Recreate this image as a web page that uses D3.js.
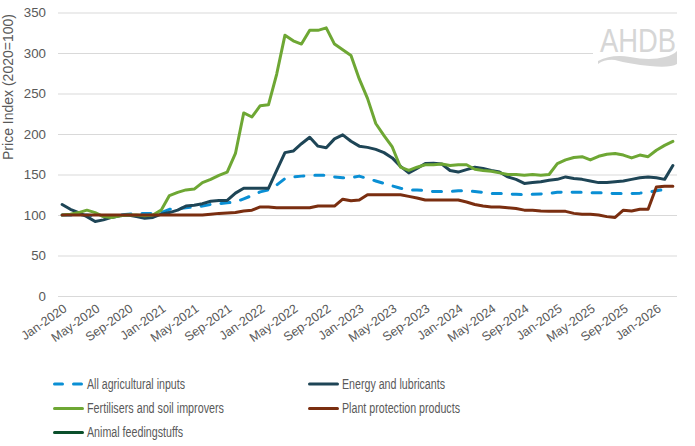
<!DOCTYPE html>
<html>
<head>
<meta charset="utf-8">
<script src="https://cdn.jsdelivr.net/npm/d3@7"></script>
<style>
  body { margin: 0; background: #fff; }
  svg { display: block; font-family: "Liberation Sans", Arial, sans-serif; }
</style>
</head>
<body>
<svg id="chart"></svg>
<script>
(() => {

  // monthly categories, Jan-2020 .. Mar-2026
  const months = d3.timeMonth.range(new Date(2020, 0, 1), new Date(2026, 3, 1));

  const allInputs = [100,100,100,100,99,99,99,100,101,102,102,102,
    103,107,108,109,110,111,113,114,115,116,120,124,
    128.5,131,137,145,147,148,149,149,149,147,146,146,
    148,145,142,139,136,133,131,131,130,129,129,129,
    130,130,129,128,126.5,126.5,126,125.5,125,125.5,126,126.5,
    128,128.5,128,128,127.5,127.5,127,126.5,126.5,126.5,127,128,
    130,131.5,null];

  const energy = [113,107,103,98,92,94,97,99,100,98,96,97,
    101,103,106,111,112,114,117,118,118,127,133,133,
    133,133,155,177,179,188,196,185,183,194,199,191,
    185,183.5,181,177,170.5,160,152,157.5,163.5,164,163,155,
    153,156,159,157.5,155,153,147,144,139,140,141,143,
    144,147,145,144,142,140,140,141,142,144,146,147,
    146,144,161];

  const fertilisers = [100,101,103,106,103,98,97,99,100,100,99,100,
    106,124,128,131,132,140,144,149,153,176,226,221,
    235,236,274,322,315,311,328,328,331,311,304,297,
    268,244,213,198,184,159,155,159,162,162,163,161,
    162,162,156.5,155,154,152,150,150,149,150,149,150,
    163.5,168,171,172,168,172.5,175,176,174,170.5,174,172,
    180,186,191];

  const plantProtection = [100,100,100,100,100,100,100,100,100,100,100,100,
    100,100,100,100,100,100,101,102,102.5,103,105,106,
    110,110,109,109,109,109,109,111,111,111,119.5,117.5,
    118.5,125,125,125,125,125,123,121,118.5,118.5,118.5,118.5,
    118.5,116,113,111,110,110,109,108,106,106,105,104.5,
    104.5,104.5,102,101,101,100,98,97,106,105,107,107,
    134.7,135.5,135.5];

  // no visible line in the chart, legend entry only
  const animalFeed = [];

  const yTicks = [0, 50, 100, 150, 200, 250, 300, 350];

  const series = [
    { name: 'All agricultural inputs', values: allInputs, color: '#0A8FD4', dash: '9,11', labelWidth: 98 },
    { name: 'Energy and lubricants', values: energy, color: '#1E4556', labelWidth: 103 },
    { name: 'Fertilisers and soil improvers', values: fertilisers, color: '#6EA734', labelWidth: 137 },
    { name: 'Plant protection products', values: plantProtection, color: '#7A2E10', labelWidth: 118 },
    { name: 'Animal feedingstuffs', values: animalFeed, color: '#0A4F2B', labelWidth: 96 }
  ];

  const width = 695;
  const height = 446;
  const left = 58, right = 677, top = 12.5, bottom = 296;

  const svg = d3.select('#chart')
    .attr('width', width)
    .attr('height', height);

  const fmt = d3.timeFormat('%b-%Y');

  const x = d3.scaleBand()
    .domain(months.map(fmt))
    .range([left, right])
    .padding(0);

  const y = d3.scaleLinear()
    .domain([0, 350])
    .range([bottom, top]);

  // gridlines + y labels
  const yAxis = svg.append('g')
    .attr('transform', `translate(${left},0)`)
    .call(d3.axisLeft(y).tickValues(yTicks).tickSize(-(right - left)).tickPadding(12));
  yAxis.select('.domain').remove();
  yAxis.selectAll('line').attr('stroke', '#D9D9D9');
  yAxis.selectAll('text')
    .attr('fill', '#595959')
    .style('font-size', '13.3px');

  // x labels
  const xAxis = svg.append('g')
    .attr('transform', `translate(0,${bottom})`)
    .call(d3.axisBottom(x).tickValues(x.domain().filter((d, i) => i % 4 === 0)).tickSize(0));
  xAxis.select('.domain').remove();
  xAxis.selectAll('text')
    .attr('x', 0)
    .attr('y', 0)
    .attr('dy', '0.35em')
    .attr('transform', 'translate(3,11) rotate(-35)')
    .style('text-anchor', 'end')
    .style('font-size', '12.5px')
    .attr('fill', '#595959');

  svg.append('text')
    .attr('transform', 'translate(13,87) rotate(-90)')
    .attr('text-anchor', 'middle')
    .attr('fill', '#595959')
    .style('font-size', '14px')
    .text('Price Index (2020=100)');

  // logo
  const logo = svg.append('g');
  logo.append('rect')
    .attr('x', 593).attr('y', 22).attr('width', 90).attr('height', 48)
    .attr('fill', '#fff');
  logo.append('text')
    .attr('x', 600).attr('y', 52)
    .attr('textLength', 76)
    .attr('lengthAdjust', 'spacingAndGlyphs')
    .attr('fill', '#D6D6D6')
    .style('font-size', '34px')
    .text('AHDB');
  logo.append('path')
    .attr('d', 'M598,61 Q612,54 630,57 Q650,61 665,57 Q673,55 677,51 L677,64 Q670,68 650,66 Q630,64 615,60 Q605,59 598,64 Z')
    .attr('fill', '#D6D6D6');

  const line = d3.line()
    .defined(d => d != null)
    .x((d, i) => x(x.domain()[i]) + x.bandwidth() / 2)
    .y(d => y(d));

  svg.selectAll('.series')
    .data(series.filter(s => s.values.length))
    .enter()
    .append('path')
    .attr('class', 'series')
    .attr('d', s => line(s.values))
    .attr('fill', 'none')
    .attr('stroke', s => s.color)
    .attr('stroke-width', 3)
    .attr('stroke-linejoin', 'round')
    .attr('stroke-linecap', 'round')
    .attr('stroke-dasharray', s => s.dash || null);

  // legend
  const legendPos = [[53, 384], [308, 384], [53, 408.5], [308, 408.5], [53, 432.5]];
  const legend = svg.selectAll('.legend')
    .data(series)
    .enter()
    .append('g')
    .attr('class', 'legend')
    .attr('transform', (s, i) => `translate(${legendPos[i][0]},${legendPos[i][1]})`);

  legend.append('line')
    .attr('x1', 1.5).attr('x2', 29.5)
    .attr('stroke', s => s.color)
    .attr('stroke-width', 3)
    .attr('stroke-linecap', 'round')
    .attr('stroke-dasharray', s => s.dash ? '8,11' : null);

  legend.append('text')
    .attr('x', 34)
    .attr('dy', '0.35em')
    .attr('textLength', s => s.labelWidth)
    .attr('lengthAdjust', 'spacingAndGlyphs')
    .attr('fill', '#595959')
    .style('font-size', '14px')
    .text(s => s.name);

})();
</script>
</body>
</html>
